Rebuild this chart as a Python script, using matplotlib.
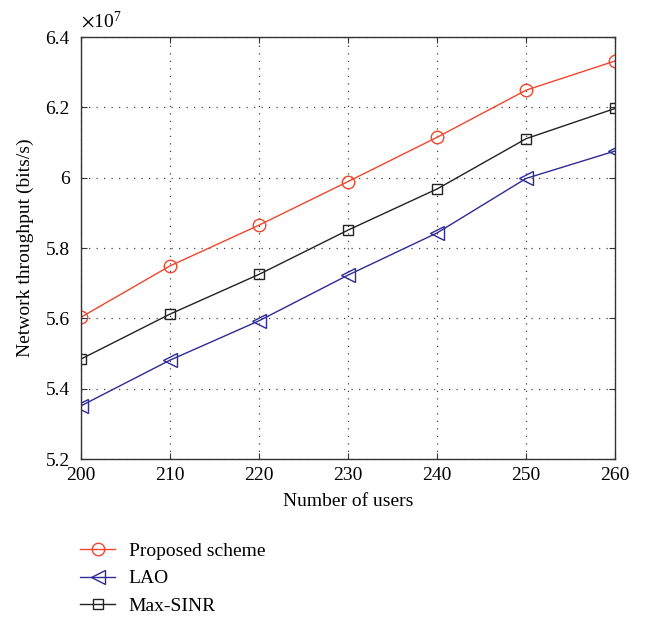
import numpy as np
import matplotlib
matplotlib.use('Agg')
import matplotlib.pyplot as plt

users = [200, 210, 220, 230, 240, 250, 260]
# throughput in units of 1e7 bits/s
proposed = [5.603, 5.749, 5.865, 5.989, 6.115, 6.249, 6.332]
lao = [5.351, 5.481, 5.593, 5.723, 5.843, 5.998, 6.076]
max_sinr = [5.484, 5.612, 5.725, 5.851, 5.968, 6.111, 6.197]

plt.rcParams['font.family'] = ['Liberation Serif', 'DejaVu Serif']
plt.rcParams['mathtext.fontset'] = 'stix'

fig = plt.figure(figsize=(6.47, 6.25), dpi=100)
ax = fig.add_axes([0.125, 0.2656, 0.826, 0.6752])

l1, = ax.plot(users, proposed, color='#f2462c', linewidth=1.0, marker='o',
              markersize=9, markerfacecolor='none', markeredgewidth=1.0,
              label='Proposed scheme')
l2, = ax.plot(users, lao, color='#2f2a96', linewidth=1.0, marker='<',
              markersize=10, markerfacecolor='none', markeredgewidth=1.0,
              label='LAO')
l3, = ax.plot(users, max_sinr, color='#222222', linewidth=1.0, marker='s',
              markersize=6.5, markerfacecolor='none', markeredgewidth=1.0,
              label='Max-SINR')

ax.set_xlim(200, 260)
ax.set_ylim(5.2, 6.4)
ax.set_xticks(users)
yt = [5.2, 5.4, 5.6, 5.8, 6.0, 6.2, 6.4]
ax.set_yticks(yt)
ax.set_yticklabels(['5.2', '5.4', '5.6', '5.8', '6', '6.2', '6.4'])
ax.tick_params(direction='in', top=True, right=True, labelsize=14, length=4,
               color='#333333')
ax.tick_params(axis='y', pad=8)
ax.tick_params(axis='x', pad=6)
for s in ax.spines.values():
    s.set_color('#333333')
    s.set_linewidth(1.0)
ax.grid(True, linestyle=(0, (1, 5)), color='#444444', linewidth=0.9)

ax.text(0.0, 1.012, r'$\times\mathregular{10^{7}}$', transform=ax.transAxes,
        fontsize=14, ha='left', va='bottom')
ax.set_xlabel('Number of users', fontsize=14, labelpad=6)
ax.set_ylabel('Network throughput (bits/s)', fontsize=14, labelpad=8)

fig.legend(handles=[l1, l2, l3], loc='upper left', bbox_to_anchor=(0.097, 0.16),
           frameon=False, fontsize=14, handlelength=1.8, labelspacing=0.5,
           handletextpad=0.7)

fig.savefig('out.png', dpi=100)
